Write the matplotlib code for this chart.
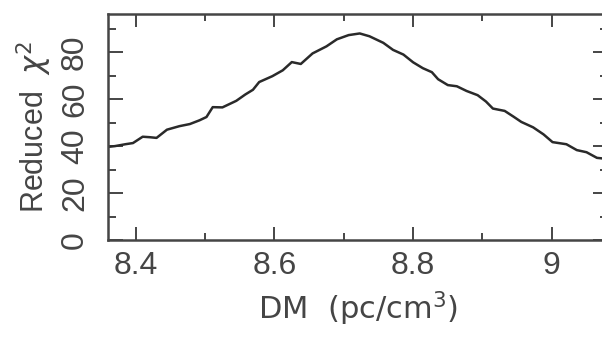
import matplotlib.pyplot as plt
from matplotlib.ticker import MultipleLocator

# Reduced chi-square versus trial dispersion measure
dm = [8.358, 8.370, 8.385, 8.396, 8.410, 8.420, 8.430, 8.445, 8.463, 8.478,
      8.492, 8.502, 8.511, 8.525, 8.545, 8.558, 8.569, 8.578, 8.597, 8.612,
      8.625, 8.638, 8.655, 8.675, 8.690, 8.707, 8.723, 8.737, 8.757, 8.771,
      8.786, 8.800, 8.814, 8.827, 8.836, 8.850, 8.863, 8.877, 8.893, 8.905,
      8.915, 8.932, 8.945, 8.956, 8.973, 8.988, 9.001, 9.021, 9.036, 9.050,
      9.065, 9.081]
chi2 = [39.6, 40.0, 40.8, 41.3, 44.0, 43.8, 43.5, 47.0, 48.5, 49.4,
        51.0, 52.4, 56.6, 56.5, 59.3, 62.0, 64.0, 67.3, 69.8, 72.3,
        75.8, 75.0, 79.5, 82.5, 85.5, 87.3, 88.0, 86.8, 84.0, 81.0,
        79.0, 75.7, 73.2, 71.5, 68.5, 66.0, 65.5, 63.5, 61.7, 59.0,
        56.0, 55.0, 52.5, 50.3, 48.0, 45.0, 41.7, 40.8, 38.3, 37.4,
        35.0, 34.5]

xticks = [8.4, 8.6, 8.8, 9.0]
xticklabels = ['8.4', '8.6', '8.8', '9']
yticks = [0, 20, 40, 60, 80]
yticklabels = ['0', '20', '40', '60', '80']

ink = '#454545'
plt.rcParams['mathtext.fontset'] = 'dejavusans'

fig = plt.figure(figsize=(6.02, 3.41), dpi=100)
ax = fig.add_axes([0.1794, 0.2962, 0.8306, 0.6642])

ax.plot(dm, chi2, color='#2a2a2a', lw=1.8, solid_joinstyle='round')
ax.set_xlim(8.36, 9.081)
ax.set_ylim(0, 96.5)

ax.set_xticks(xticks)
ax.set_xticklabels(xticklabels, fontfamily='Liberation Sans', fontsize=23, color=ink)
ax.set_yticks(yticks)
ax.set_yticklabels(yticklabels, fontfamily='Liberation Sans', fontsize=23, color=ink,
                   rotation=90, va='center')
ax.xaxis.set_minor_locator(MultipleLocator(0.1))
ax.yaxis.set_minor_locator(MultipleLocator(10))

ax.tick_params(axis='both', which='both', direction='in', top=True, right=True,
               color=ink, width=1.4)
ax.tick_params(axis='x', which='major', length=9.5, pad=8)
ax.tick_params(axis='x', which='minor', length=5)
ax.tick_params(axis='y', which='major', length=11, pad=13)
ax.tick_params(axis='y', which='minor', length=5.5)
for sp in ax.spines.values():
    sp.set_color(ink)
    sp.set_linewidth(1.8)

ax.set_xlabel('DM  (pc/cm$^3$)', fontfamily='DejaVu Sans', fontsize=22, color=ink,
              labelpad=6)
ax.set_ylabel('Reduced  $\\chi^2$', fontfamily='Liberation Sans', fontsize=22,
              color=ink, labelpad=4)

fig.savefig('out.png', dpi=100)
